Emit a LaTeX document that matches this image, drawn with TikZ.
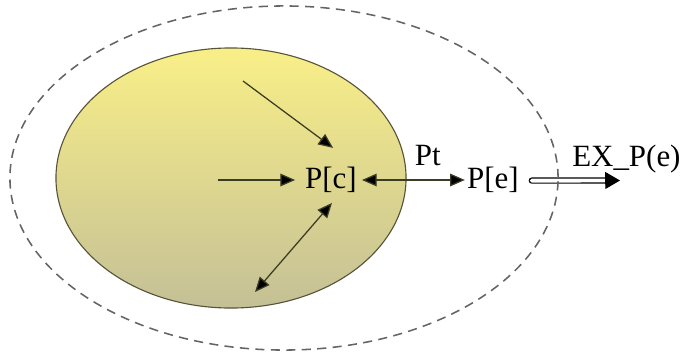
\documentclass[tikz,border=0pt]{standalone}
\usepackage{fontspec}
\setmainfont{Liberation Serif}
\usetikzlibrary{arrows.meta,positioning}
\definecolor{coretop}{RGB}{249,239,136}
\definecolor{corebot}{RGB}{196,192,150}
\definecolor{coreline}{RGB}{88,84,58}
\definecolor{linkcol}{RGB}{60,60,36}
\definecolor{ringcol}{RGB}{100,100,100}

\begin{document}
\begin{tikzpicture}[x=0.025cm, y=-0.025cm,
  lbl/.style={inner sep=0pt, font=\fontsize{22}{26}\selectfont},
  link/.style={-{Triangle[length=10.5pt, width=9pt, fill=black]}, draw=linkcol, line width=0.9pt},
  dlink/.style={{Triangle[length=10.5pt, width=9pt, fill=black]}-{Triangle[length=10.5pt, width=9pt, fill=black]}, draw=linkcol, line width=0.9pt},
  outflow/.style={double=white, double distance=2.8pt, line width=0.8pt, line cap=round, -{Triangle[length=10.5pt, width=12pt, fill=black]}},
  ring/.style={draw=ringcol, line width=1.1pt, dash pattern=on 6.5pt off 4.5pt}
]
\useasboundingbox (0,0) rectangle (688,355);

% core region
\path[draw=coreline, line width=0.8pt, top color=coretop, bottom color=corebot] (231,178) ellipse (4.375cm and 3.25cm);

\node[lbl] (pc) at (331,180) {P[c]};
\node[lbl] (pe) at (493,180) {P[e]};
\node[lbl, anchor=base west] (ex) at (572,166) {EX\_P(e)};

\coordinate (inA) at (243,81);
\coordinate (inB) at (218,180);
\coordinate (inC) at (255,292);
\coordinate (exout) at (620,180.5);

\draw[link] (inA) -- ([xshift=1.5pt, yshift=13.5pt]pc.north);
\draw[link] (inB) -- ([xshift=-7pt]pc.west);
\draw[dlink] (inC) -- ([xshift=0.7pt, yshift=-7pt]pc.south);
\draw[dlink] ([xshift=3.5pt]pc.east) -- ([xshift=-1.5pt]pe.west)
  node[lbl, pos=0.64, above=10pt] (pt) {Pt};
\draw[outflow] ([xshift=9pt, yshift=-0.4pt]pe.east) -- (exout);

% environment boundary
\draw[ring] (284,178) ellipse (6.85cm and 4.3cm);

\end{tikzpicture}
\end{document}
